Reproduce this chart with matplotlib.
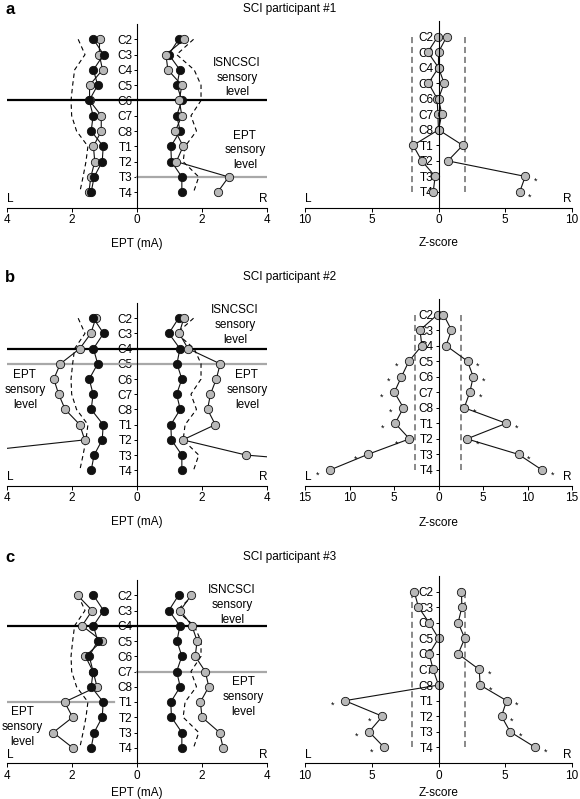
import numpy as np
import matplotlib.pyplot as plt

plt.rcParams['font.family'] = ['Liberation Sans', 'DejaVu Sans']

# spinal levels, top to bottom
levels = ['C2', 'C3', 'C4', 'C5', 'C6', 'C7', 'C8', 'T1', 'T2', 'T3', 'T4']

# control group mean EPT (mA), black dots
ctrl_L = [1.34, 1.03, 1.34, 1.21, 1.47, 1.35, 1.41, 1.04, 1.07, 1.32, 1.41]
ctrl_R = [1.28, 0.98, 1.32, 1.23, 1.38, 1.22, 1.33, 1.04, 1.06, 1.38, 1.38]
# upper limit of normal (dashed)
norm_L = [1.81, 1.60, 1.92, 1.98, 2.03, 2.01, 1.86, 1.51, 1.57, 1.66, 1.76]
norm_R = [1.74, 1.22, 1.76, 1.97, 1.97, 1.66, 1.83, 1.48, 1.42, 1.90, 1.74]

# participant EPT (mA), grey dots
ept_L = [[1.15, 1.16, 1.06, 1.46, 1.46, 1.10, 1.10, 1.34, 1.30, 1.42, 1.48],
         [1.27, 1.42, 1.76, 2.36, 2.56, 2.41, 2.21, 1.76, 1.61, 5.90, 8.00],
         [1.83, 1.38, 1.69, 1.08, 1.59, 1.35, 1.23, 2.23, 1.98, 2.58, 1.98]]
ept_R = [[1.46, 0.89, 0.95, 1.38, 1.30, 1.38, 1.18, 1.42, 1.21, 2.82, 2.48],
         [1.44, 1.30, 1.57, 2.56, 2.44, 2.26, 2.17, 2.41, 1.41, 3.36, 9.00],
         [1.67, 1.33, 1.69, 1.85, 1.79, 2.10, 2.21, 1.95, 2.00, 2.54, 2.65]]

# participant z-scores
z_L = [[0.05, 0.8, 0.0, 0.75, 0.1, 0.05, 0.0, 1.9, 1.25, 0.25, 0.4],
       [0.1, 2.08, 1.87, 3.32, 4.16, 4.96, 3.94, 4.87, 3.26, 7.95, 12.19],
       [1.82, 1.5, 0.7, 0.0, 0.7, 0.4, 0.0, 7.02, 4.2, 5.2, 4.07]]
z_R = [[0.62, 0.0, 0.0, 0.42, 0.0, 0.25, 0.0, 1.82, 0.7, 6.5, 6.08],
       [0.56, 1.46, 0.85, 3.26, 3.9, 3.52, 2.89, 7.61, 3.19, 9.0, 11.63],
       [1.72, 1.75, 1.47, 1.97, 1.47, 3.05, 3.12, 5.1, 4.72, 5.37, 7.25]]
z_cut_L = [2.0, 2.6, 2.0]
z_cut_R = [2.0, 2.5, 2.0]
z_max = [10, 15, 10]
sig_L = [[], ['C5', 'C6', 'C7', 'C8', 'T1', 'T2', 'T3', 'T4'], ['T1', 'T2', 'T3', 'T4']]
sig_R = [['T3', 'T4'], ['C5', 'C6', 'C7', 'C8', 'T1', 'T2', 'T3', 'T4'],
         ['C7', 'C8', 'T1', 'T2', 'T3', 'T4']]

# sensory levels: (level, x from, x to)
isncsci = ['C6', 'C4', 'C4']
ept_level = [[('T3', 0, 4)], [('C5', -4, 4)], [('C7', 0, 4), ('T1', -4, -0.72)]]
# label positions (x, level index) for the annotations
lab_isn = [(3.08, 2.5), (3.02, 0.45), (2.92, 0.64)]
lab_ept = [[(3.32, 7.26)], [(-3.45, 4.72), (3.38, 4.72)], [(3.26, 6.67), (-3.54, 8.64)]]

letters = ['a', 'b', 'c']
# panel pixel geometry: (title y, ept top, z top, bottom)
rows = [(9, 24, 21, 207.5), (277, 303, 299, 485.5), (557, 580, 576, 763)]
xlab_off = [30, 31, 24]

W, H = 580, 799
GRAY = '#b8b8b8'
fig = plt.figure(figsize=(W / 100, H / 100), dpi=100)


def add_ax(x0, top, x1, bot):
    return fig.add_axes([x0 / W, 1 - bot / H, (x1 - x0) / W, (bot - top) / H])


def style(ax, xmax, step, bot_px, top_px, off):
    ax.set_xlim(-xmax, xmax)
    ax.set_ylim(11, -1)
    for s in ['top', 'right']:
        ax.spines[s].set_visible(False)
    ax.spines['left'].set_position(('data', 0))
    ax.spines['left'].set_linewidth(0.8)
    ax.spines['bottom'].set_linewidth(0.8)
    ax.set_yticks(range(len(levels)))
    ax.set_yticklabels(levels, fontsize=8.5)
    ax.tick_params(axis='y', length=2.5, width=0.7, pad=1)
    ticks = np.arange(-xmax, xmax + 1, step)
    ax.set_xticks(ticks)
    ax.set_xticklabels([str(abs(int(t))) for t in ticks], fontsize=8.5)
    ax.tick_params(axis='x', length=3, width=0.7, pad=2)
    ax.patch.set_visible(False)
    ax.text(0.0, 0.012, 'L', transform=ax.transAxes, ha='left', va='bottom', fontsize=8.5)
    ax.text(1.0, 0.012, 'R', transform=ax.transAxes, ha='right', va='bottom', fontsize=8.5)
    ax.xaxis.set_label_coords(0.5, -off / (bot_px - top_px))


y = np.arange(len(levels))
mk = dict(marker='o', ms=6, mew=0.6, mec='#111111', color='#111111', lw=0.8)

for i in range(3):
    ty, top_e, top_z, bot = rows[i]
    fig.text(5 / W, 1 - (ty + 1) / H, letters[i], fontsize=12, fontweight='bold',
             ha='left', va='center')
    fig.text(0.5, 1 - ty / H, 'SCI participant #%d' % (i + 1), fontsize=8.5,
             ha='center', va='center')

    # EPT panel
    ax = add_ax(7, top_e, 267, bot)
    style(ax, 4, 2, bot, top_e, xlab_off[i])
    ax.set_xlabel('EPT (mA)', fontsize=8.5)
    ax.plot(-np.array(norm_L), y, color='k', lw=0.8, ls=(0, (4, 3)))
    ax.plot(np.array(norm_R), y, color='k', lw=0.8, ls=(0, (4, 3)))
    ax.axhline(levels.index(isncsci[i]), color='k', lw=1.6, zorder=1.8)
    for lv, x0, x1 in ept_level[i]:
        ax.plot([x0, x1], [levels.index(lv)] * 2, color='#a8a8a8', lw=1.6, zorder=1.8)
    ax.plot(-np.array(ept_L[i]), y, mfc=GRAY, **mk)
    ax.plot(-np.array(ctrl_L), y, mfc='#111111', **mk)
    ax.plot(np.array(ctrl_R), y, mfc='#111111', **mk)
    ax.plot(np.array(ept_R[i]), y, mfc=GRAY, **mk)
    kw = dict(fontsize=8.5, ha='center', va='center', linespacing=1.3)
    ax.text(lab_isn[i][0], lab_isn[i][1], 'ISNCSCI\nsensory\nlevel', **kw)
    for px, py in lab_ept[i]:
        ax.text(px, py, 'EPT\nsensory\nlevel', **kw)

    # Z-score panel
    az = add_ax(305, top_z, 572, bot)
    style(az, z_max[i], 5, bot, top_z, xlab_off[i])
    az.set_xlabel('Z-score', fontsize=8.5)
    az.plot([-z_cut_L[i]] * 2, [0, 10], color='#6a6a6a', lw=1.1, ls=(0, (4, 2.5)))
    az.plot([z_cut_R[i]] * 2, [0, 10], color='#6a6a6a', lw=1.1, ls=(0, (4, 2.5)))
    zl = -np.array(z_L[i])
    zr = np.array(z_R[i])
    az.plot(zl, y, mfc=GRAY, **mk)
    az.plot(zr, y, mfc=GRAY, **mk)
    for lv in sig_L[i]:
        k = levels.index(lv)
        az.annotate('*', (zl[k], k), xytext=(-9, -3.5), textcoords='offset points',
                    fontsize=6.5, ha='center', va='center')
    for lv in sig_R[i]:
        k = levels.index(lv)
        az.annotate('*', (zr[k], k), xytext=(7.5, -3.5), textcoords='offset points',
                    fontsize=6.5, ha='center', va='center')

fig.savefig('out.png', dpi=100)
